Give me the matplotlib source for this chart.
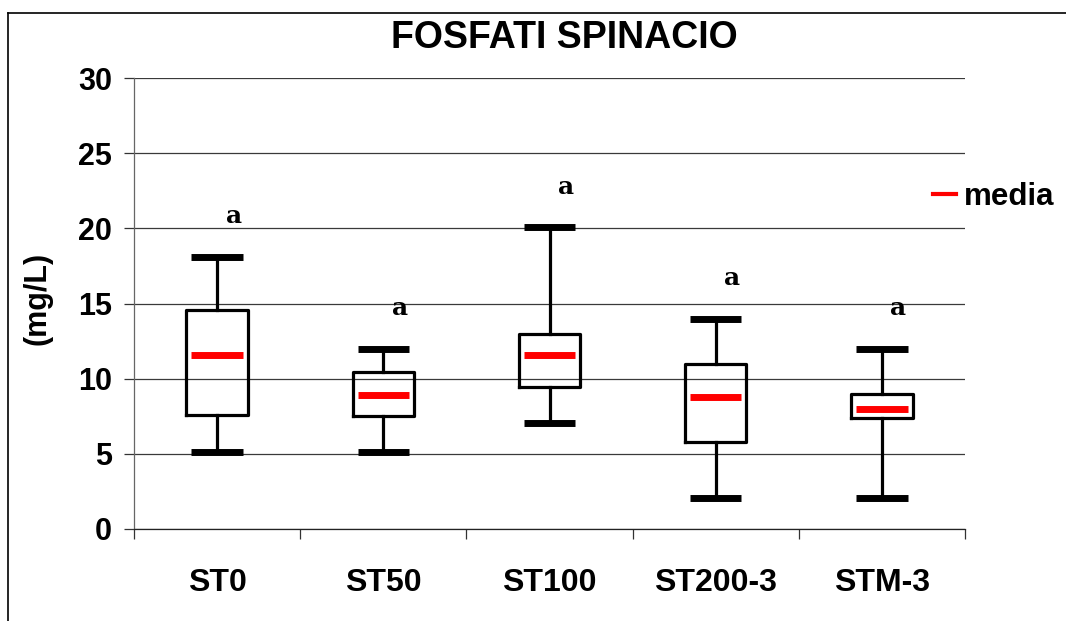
import matplotlib
matplotlib.use("Agg")
import matplotlib.pyplot as plt
from matplotlib.lines import Line2D

# === DATA ===
groups = ["ST0", "ST50", "ST100", "ST200-3", "STM-3"]
whisk_lo = [5.1, 5.1, 7.05, 2.05, 2.05]
box_lo = [7.55, 7.5, 9.45, 5.8, 7.4]
means = [11.6, 8.9, 11.6, 8.8, 8.0]
box_hi = [14.6, 10.45, 13.0, 11.0, 9.0]
whisk_hi = [18.1, 12.0, 20.1, 14.0, 12.0]
letters = ["a", "a", "a", "a", "a"]
letter_y = [20.8, 14.7, 22.75, 16.7, 14.7]

W, H = 1066, 621
fig = plt.figure(figsize=(W / 100, H / 100), dpi=100)
ax = fig.add_axes([134 / W, 1 - 529 / H, (965 - 134) / W, (529 - 78) / H])

pos = list(range(1, len(groups) + 1))

# === BOXES ===
stats = []
for i, g in enumerate(groups):
    stats.append({
        "label": g,
        "whislo": whisk_lo[i], "q1": box_lo[i], "med": means[i],
        "q3": box_hi[i], "whishi": whisk_hi[i], "fliers": [],
    })

ax.bxp(stats, positions=pos, widths=0.37, capwidths=0.31,
       showfliers=False,
       boxprops=dict(color="black", linewidth=2.3, solid_joinstyle="round"),
       whiskerprops=dict(color="black", linewidth=2.3),
       capprops=dict(color="black", linewidth=5, solid_capstyle="butt"),
       medianprops=dict(linewidth=0),
       zorder=3)

# red mean dashes
ax.hlines(means, [p - 0.155 for p in pos], [p + 0.155 for p in pos],
          colors="#ff0000", linewidth=5, zorder=4)

# letters above the boxes
for p, lab, y in zip(pos, letters, letter_y):
    ax.text(p + 0.1, y, lab, ha="center", va="center",
            family="DejaVu Serif", fontweight="bold", fontsize=18)

# === AXES ===
ax.set_xlim(0.5, len(groups) + 0.5)
ax.set_ylim(0, 30)
ax.set_yticks(range(0, 31, 5))
ax.yaxis.grid(True, color="#3a3a3a", linewidth=0.9)
ax.set_axisbelow(True)

ax.set_xticks(pos)
ax.set_xticklabels(groups)
ax.set_xticks([p - 0.5 for p in pos] + [len(groups) + 0.5], minor=True)
ax.tick_params(axis="x", which="major", length=0, pad=28)
ax.tick_params(axis="x", which="minor", length=7, width=0.9, direction="out", color="#333")
ax.tick_params(axis="y", length=7, width=0.9, direction="out", color="#333", pad=9)

for lab in ax.get_xticklabels():
    lab.set_family("Liberation Sans")
    lab.set_fontweight("bold")
    lab.set_fontsize(23)
for lab in ax.get_yticklabels():
    lab.set_family("Liberation Sans")
    lab.set_fontweight("bold")
    lab.set_fontsize(22)

for s in ["top", "right"]:
    ax.spines[s].set_visible(False)
ax.spines["left"].set_color("#666")
ax.spines["left"].set_linewidth(0.9)
ax.spines["bottom"].set_color("#222")
ax.spines["bottom"].set_linewidth(0.9)

# === TEXT ===
fig.text(564 / W, 1 - 38 / H, "FOSFATI SPINACIO", ha="center", va="center",
         family="Liberation Sans", fontweight="bold", fontsize=27)
fig.text(38 / W, 1 - 298 / H, "(mg/L)", ha="center", va="center", rotation=90,
         family="Liberation Sans", fontweight="bold", fontsize=22)

# legend
proxy = Line2D([], [], color="#ff0000", linewidth=3)
fig.legend([proxy], ["media"], loc="center left",
           bbox_to_anchor=(933 / W, 1 - 197 / H), frameon=False,
           borderpad=0, borderaxespad=0,
           handlelength=0.72, handletextpad=0.26,
           prop=dict(family="Liberation Sans", weight="bold", size=22.5))

# outer chart border (runs off the right and bottom of the image)
fig.add_artist(Line2D([8 / W, 1.0], [1 - 13 / H, 1 - 13 / H], color="black", linewidth=1.2))
fig.add_artist(Line2D([8 / W, 8 / W], [0.0, 1 - 13 / H], color="black", linewidth=1.2))

fig.savefig("out.png", dpi=100)
